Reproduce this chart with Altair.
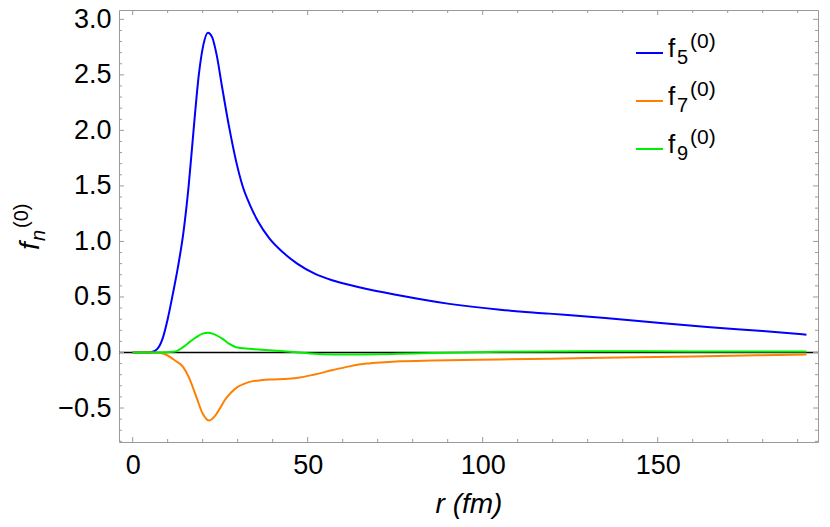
import altair as alt
import pandas as pd

# ---- data ----
r5 = [0, 4, 5.5, 7, 8.5, 10, 11.5, 13, 14.5, 16, 17.4, 18.9, 20.2, 21.5, 22.7, 24, 25.5, 27.5, 29.5, 31.5,
      33.5, 36, 39, 43, 47, 52, 57, 65, 76, 90, 105, 119, 135, 150, 165, 180, 192.5]
f5 = [0, 0, 0.005, 0.03, 0.12, 0.3, 0.53, 0.78, 1.08, 1.5, 2.0, 2.5, 2.77, 2.88, 2.84, 2.68, 2.4, 2.04, 1.73,
      1.49, 1.33, 1.17, 1.03, 0.9, 0.8, 0.71, 0.65, 0.585, 0.515, 0.44, 0.385, 0.35, 0.31, 0.268, 0.228,
      0.193, 0.16]

r7 = [0, 5, 8, 10, 12, 14.4, 16, 18.2, 20, 21.8, 23.3, 24.8, 26.3, 28, 30, 32, 34.4, 37, 40, 44.5, 47.7,
      52, 57.2, 62, 66.8, 72, 76.3, 85.7, 105, 130, 160, 192.5]
f7 = [0, 0, -0.005, -0.027, -0.07, -0.13, -0.22, -0.40, -0.55, -0.613, -0.58, -0.51, -0.43, -0.365, -0.31,
      -0.28, -0.258, -0.248, -0.243, -0.237, -0.226, -0.198, -0.158, -0.125, -0.10, -0.087, -0.079,
      -0.072, -0.063, -0.05, -0.035, -0.018]

r9 = [0, 8, 10, 12.5, 14.4, 16.5, 18.2, 20, 21.5, 23, 25.8, 27.5, 29.6, 33.4, 40, 47.7, 52, 57, 65, 76,
      90, 105, 130, 160, 192.5]
f9 = [0, 0, 0.003, 0.012, 0.048, 0.1, 0.138, 0.17, 0.177, 0.168, 0.12, 0.08, 0.048, 0.033, 0.018, 0.0,
      -0.012, -0.018, -0.017, -0.012, -0.003, 0.006, 0.012, 0.01, 0.008]

series_names = ["f5", "f7", "f9"]
series_subs = ["5", "7", "9"]
series_colors = ["#0000ff", "#ff8000", "#00ee00"]

x_major = [0, 50, 100, 150]
x_minor = [v for v in range(0, 200, 10) if v % 50 != 0]
y_major = [-0.5, 0.0, 0.5, 1.0, 1.5, 2.0, 2.5, 3.0]
y_minor = [round(-0.8 + 0.1 * i, 1) for i in range(39) if round((-0.8 + 0.1 * i) * 10) % 5 != 0]

x_domain = [-3.9, 195.8]
y_domain = [-0.806, 3.084]

W, H = 699, 432
FONT = "Liberation Sans"
FRAME = "#9a9a9a"

rows = []
for name, rs, vs in zip(series_names, [r5, r7, r9], [f5, f7, f9]):
    for r, v in zip(rs, vs):
        rows.append({"series": name, "r": r, "f": v})
df = pd.DataFrame(rows)

xs = alt.Scale(domain=x_domain, nice=False, zero=False)
ys = alt.Scale(domain=y_domain, nice=False, zero=False)

base_x = alt.X("r:Q", scale=xs, axis=alt.Axis(values=x_major, title="r (fm)", format="d"))
base_y = alt.Y("f:Q", scale=ys, axis=alt.Axis(values=y_major, title=None, format=".1f"))

zero_df = pd.DataFrame({"f": [0.0]})
zero_line = alt.Chart(zero_df).mark_rule(color="black", strokeWidth=1.3).encode(
    y=alt.Y("f:Q", scale=ys), x=alt.value(0), x2=alt.value(W))

lines = alt.Chart(df).mark_line(strokeWidth=2, interpolate="monotone").encode(
    x=base_x, y=base_y,
    color=alt.Color("series:N", scale=alt.Scale(domain=series_names, range=series_colors), legend=None),
    detail="series:N")

def xticks(vals, length):
    d = pd.DataFrame({"t": vals})
    bot = alt.Chart(d).mark_rule(color=FRAME, strokeWidth=1).encode(
        x=alt.X("t:Q", scale=xs), y=alt.value(H), y2=alt.value(H - length))
    top = alt.Chart(d).mark_rule(color=FRAME, strokeWidth=1).encode(
        x=alt.X("t:Q", scale=xs), y=alt.value(0), y2=alt.value(length))
    return [bot, top]

def yticks(vals, length):
    d = pd.DataFrame({"t": vals})
    left = alt.Chart(d).mark_rule(color=FRAME, strokeWidth=1).encode(
        y=alt.Y("t:Q", scale=ys), x=alt.value(0), x2=alt.value(length))
    right = alt.Chart(d).mark_rule(color=FRAME, strokeWidth=1).encode(
        y=alt.Y("t:Q", scale=ys), x=alt.value(W), x2=alt.value(W - length))
    return [left, right]

tick_layers = xticks(x_major, 5) + xticks(x_minor, 3) + yticks(y_major, 5) + yticks(y_minor, 3)

# ---- y-axis title  f_n^(0) ----
one = pd.DataFrame({"a": [0]})
def txt(text, x, y, size, style="normal", angle=0, align="left"):
    return alt.Chart(one).mark_text(text=text, font=FONT, fontSize=size, fontStyle=style,
                                    angle=angle, align=align, baseline="alphabetic", color="black").encode(
        x=alt.value(x), y=alt.value(y))

ytitle = [
    txt("f", -80, 240, 28, "italic", 270),
    txt("n", -74, 231, 20, "italic", 270),
    txt("(0)", -91, 218, 20, "normal", 270),
]

# ---- legend ----
legend_layers = []
for i, (sub, col) in enumerate(zip(series_subs, series_colors)):
    dy = 48 * i
    legend_layers.append(alt.Chart(one).mark_rule(color=col, strokeWidth=2).encode(
        x=alt.value(517), x2=alt.value(544), y=alt.value(43 + dy)))
    legend_layers.append(txt("f", 549, 47 + dy, 26))
    legend_layers.append(txt(sub, 558, 54 + dy, 20))
    legend_layers.append(txt("(0)", 571, 38 + dy, 21))

chart = alt.layer(zero_line, lines, *tick_layers, *ytitle, *legend_layers).properties(
    width=W, height=H,
    autosize=alt.AutoSizeParams(type="none"),
    padding={"left": 111, "top": 2, "right": 4, "bottom": 77},
).configure_view(stroke=FRAME, strokeWidth=1).configure_axis(
    domain=False, ticks=False, grid=False, labelFont=FONT, labelFontSize=27, labelColor="black",
    titleFont=FONT, titleFontSize=28, titleFontWeight="normal", titleColor="black",
).configure_axisX(labelPadding=10, titlePadding=12, titleFontStyle="italic").configure_axisY(
    labelPadding=8)

chart.save("out.html", embed_options={"renderer": "svg", "actions": False})
